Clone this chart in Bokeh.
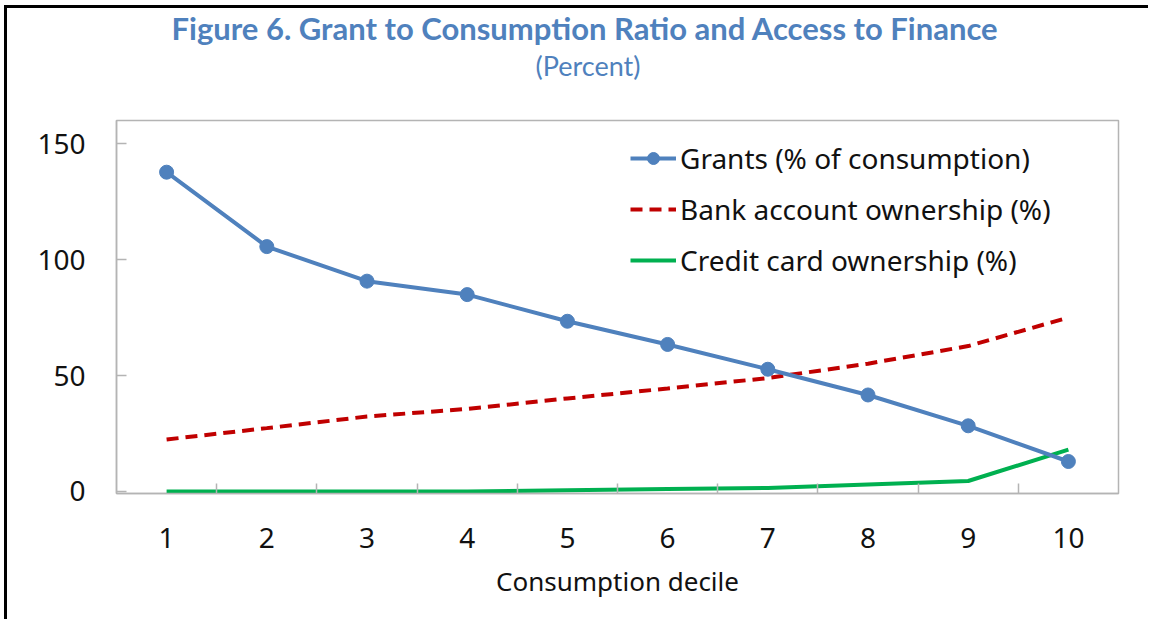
from bokeh.plotting import figure
from bokeh.models import (Range1d, FixedTicker, Legend, LegendItem, Title)
from bokeh.embed import file_html
from bokeh.resources import INLINE

# ---- data ----
deciles = [1, 2, 3, 4, 5, 6, 7, 8, 9, 10]
grants = [137.7, 105.6, 90.7, 84.9, 73.4, 63.4, 52.7, 41.6, 28.3, 12.9]
bank = [22.4, 27.3, 32.3, 35.6, 40.1, 44.4, 48.9, 55.1, 62.7, 75.0]
credit = [0.0, 0.0, 0.0, 0.0, 0.5, 1.0, 1.5, 3.0, 4.5, 18.0]
y_ticks = [0, 50, 100, 150]
series_names = ["Grants (% of consumption)", "Bank account ownership (%)",
                "Credit card ownership (%)"]
title_text = "Figure 6. Grant to Consumption Ratio and Access to Finance"
subtitle_text = "(Percent)"
x_label = "Consumption decile"

BLUE = "#4F81BD"
RED = "#C00000"
GREEN = "#00B050"
GREY = "#B4B4B4"

p = figure(width=1144, height=614, output_backend="svg", toolbar_location=None,
           x_range=Range1d(0.5, 10.5), y_range=Range1d(-0.9, 160),
           min_border_left=109, min_border_right=33, min_border_top=112,
           min_border_bottom=129, background_fill_color="white",
           border_fill_color="white")
p.styles = {"margin-left": "4px", "margin-top": "5px",
            "border-left": "3px solid black", "border-top": "3px solid black"}

p.title.text = title_text
p.title.align = "left"
p.title.offset = 55
p.title.vertical_align = "top"
p.title.standoff = 0
p.title.text_color = BLUE
p.title.text_font = "Lato"
p.title.text_font_style = "bold"
p.title.text_font_size = "31px"

# spacer panel between the subtitle and the plot frame
p.add_layout(Title(text=" ", text_font_size="10px", standoff=24), "above")
p.add_layout(Title(text=subtitle_text, align="left", offset=419,
                   vertical_align="top", standoff=0, text_color=BLUE,
                   text_font="Lato", text_font_style="normal",
                   text_font_size="27px"), "above")

p.xgrid.visible = False
p.ygrid.visible = False
p.outline_line_color = GREY
p.outline_line_width = 1.5

xa = p.xaxis[0]
xa.ticker = FixedTicker(ticks=deciles, minor_ticks=[d + 0.5 for d in deciles[:-1]])
xa.major_tick_line_color = None
xa.minor_tick_in = 10
xa.minor_tick_out = 0
xa.minor_tick_line_color = GREY
xa.minor_tick_line_width = 1.5
xa.axis_line_color = GREY
xa.axis_line_width = 1.5
xa.major_label_text_font = "Noto Sans"
xa.major_label_text_font_size = "28px"
xa.major_label_text_color = "#111111"
xa.major_label_standoff = 28
xa.axis_label = x_label
xa.axis_label_text_font = "Noto Sans"
xa.axis_label_text_font_size = "26px"
xa.axis_label_text_font_style = "normal"
xa.axis_label_text_color = "#111111"
xa.axis_label_standoff = 12

ya = p.yaxis[0]
ya.ticker = FixedTicker(ticks=y_ticks, minor_ticks=[])
ya.major_tick_in = 10
ya.major_tick_out = 0
ya.major_tick_line_color = GREY
ya.major_tick_line_width = 1.5
ya.minor_tick_line_color = None
ya.axis_line_color = GREY
ya.axis_line_width = 1.5
ya.major_label_text_font = "Noto Sans"
ya.major_label_text_font_size = "28px"
ya.major_label_text_color = "#111111"
ya.major_label_standoff = 31

r_credit = p.line(deciles, credit, line_color=GREEN, line_width=4)
r_bank = p.line(deciles, bank, line_color=RED, line_width=4, line_dash="12 7")
r_grants = p.line(deciles, grants, line_color=BLUE, line_width=4)
r_gpts = p.scatter(deciles, grants, size=14, fill_color=BLUE, line_color=BLUE)

legend = Legend(items=[
    LegendItem(label=series_names[0], renderers=[r_grants, r_gpts]),
    LegendItem(label=series_names[1], renderers=[r_bank]),
    LegendItem(label=series_names[2], renderers=[r_credit]),
], location=(514, 214), orientation="vertical")
legend.background_fill_alpha = 0
legend.border_line_color = None
legend.padding = 0
legend.margin = 0
legend.spacing = 13
legend.glyph_width = 46
legend.glyph_height = 30
legend.label_height = 30
legend.label_standoff = 4
legend.label_text_font = "Noto Sans"
legend.label_text_font_size = "28px"
legend.label_text_color = "#111111"
p.add_layout(legend, "center")

open("out.html", "w").write(file_html(p, INLINE))
